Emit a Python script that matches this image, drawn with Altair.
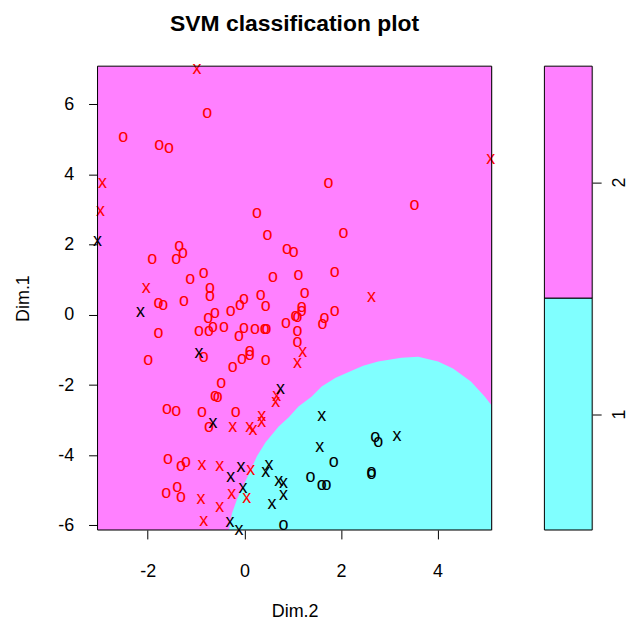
import altair as alt
import pandas as pd

FONT = "Liberation Sans"

# ---- data ranges (grid extent) ----
dim2_range = [-3.04, 5.12]
dim1_range = [-6.13, 7.09]

# ---- decision boundary: upper edge of the class-1 (cyan) region ----
bound_dim2 = [-0.32, -0.26, -0.15, 0.09, 0.26, 0.44, 0.71, 0.92, 1.12, 1.39, 1.60,
              1.89, 2.22, 2.46, 2.77, 3.25, 3.60, 4.01, 4.32, 4.69, 4.98, 5.12]
bound_dim1 = [-6.13, -5.67, -5.25, -4.54, -4.03, -3.63, -3.18, -2.92, -2.61, -2.33, -2.04,
              -1.79, -1.59, -1.45, -1.33, -1.22, -1.19, -1.33, -1.53, -1.90, -2.33, -2.58]

# ---- class 2, ordinary points ("o", red) ----
c2o_dim2 = [-2.51, -1.76, -1.56, -0.77, 1.74, 3.52, 0.26, 2.05, 0.48, -1.35, -1.27, -1.41,
            -1.91, 0.88, 1.02, -0.84, -1.12, 0.59, 1.12, 1.87, 1.25, -0.71, -0.71, -1.78,
            -1.68, -1.25, -0.01, -0.09, 0.34, 0.44, -0.28, -0.61, -0.75, 1.19, 1.19, 1.87,
            1.06, 1.10, 0.86, 1.66, 1.62, -1.78, -0.94, -0.73, -0.65, -0.42, -0.01, 0.22,
            0.42, 0.46, -0.11, 1.10, 1.10, -0.84, 0.11, 0.11, -0.05, -0.24, 0.44, -1.99,
            -0.48, -0.61, -0.55, -1.60, -1.41, -0.88, -0.18, -0.73, -1.58, -1.31, -1.21,
            -1.62, -1.39, -1.31]
c2o_dim1 = [5.08, 4.85, 4.77, 5.76, 3.77, 3.12, 2.89, 2.33, 2.27, 1.96, 1.76, 1.59,
            1.59, 1.87, 1.79, 1.19, 1.02, 1.08, 1.13, 1.22, 0.62, 0.77, 0.54, 0.34,
            0.28, 0.40, 0.45, 0.28, 0.57, 0.26, 0.11, 0.06, -0.09, 0.23, 0.11, 0.11,
            -0.03, -0.06, -0.23, -0.09, -0.26, -0.51, -0.45, -0.45, -0.34, -0.34, -0.37, -0.40,
            -0.40, -0.40, -0.60, -0.45, -0.77, -1.19, -1.02, -1.13, -1.25, -1.48, -1.28, -1.30,
            -1.93, -2.30, -2.35, -2.67, -2.75, -2.78, -2.78, -3.21, -4.11, -4.31, -4.20,
            -5.08, -4.91, -5.19]

# ---- class 2, support vectors ("x", red) ----
c2x_dim2 = [-0.98, -2.94, -2.98, -2.03, 2.63, 1.21, 1.10, 0.67, 0.65, 0.36, 0.36, -0.24,
            0.11, 0.18, -0.88, -0.51, 0.13, -0.26, 0.05, -0.90, -0.51, -0.84, 5.10]
c2x_dim1 = [7.01, 3.77, 2.95, 0.77, 0.51, -1.05, -1.36, -2.30, -2.47, -2.89, -3.06, -3.21,
            -3.21, -3.29, -4.28, -4.31, -4.43, -5.11, -5.22, -5.25, -5.48, -5.87, 4.43]

# ---- class 1, support vectors ("x", black) ----
c1x_dim2 = [-3.04, -2.15, -0.94, 0.75, -0.65, -0.07, -0.28, 0.51, 0.44, 0.71, 0.81, -0.03,
            0.81, 0.57, -0.30, -0.11, 1.60, 1.56, 3.16]
c1x_dim1 = [2.10, 0.09, -1.08, -2.10, -3.09, -4.34, -4.62, -4.28, -4.48, -4.74, -4.79, -4.94,
            -5.13, -5.39, -5.90, -6.13, -2.87, -3.77, -3.46]

# ---- class 1, ordinary points ("o", black) ----
c1o_dim2 = [2.71, 2.77, 1.85, 1.37, 1.60, 1.70, 2.63, 2.63, 0.81]
c1o_dim1 = [-3.49, -3.63, -4.20, -4.62, -4.85, -4.85, -4.48, -4.54, -5.99]

classes = ["1", "2"]
region_colors = ["#80FFFF", "#FF80FF"]
symbol_colors = ["black", "red"]
x_ticks = [-2, 0, 2, 4]
y_ticks = [-6, -4, -2, 0, 2, 4, 6]

# ---- tables ----
frames = []
for d2, d1, c, s in [(c2o_dim2, c2o_dim1, "2", "o"), (c2x_dim2, c2x_dim1, "2", "x"),
                     (c1x_dim2, c1x_dim1, "1", "x"), (c1o_dim2, c1o_dim1, "1", "o")]:
    frames.append(pd.DataFrame({"dim2": d2, "dim1": d1, "cls": c, "sym": s}))
pts = pd.concat(frames, ignore_index=True)

bound = pd.DataFrame({"dim2": bound_dim2, "dim1": bound_dim1, "low": dim1_range[0]})
box = pd.DataFrame({"x0": [dim2_range[0]], "x1": [dim2_range[1]],
                    "y0": [dim1_range[0]], "y1": [dim1_range[1]]})

xscale = alt.Scale(domain=dim2_range, nice=False, zero=False)
yscale = alt.Scale(domain=dim1_range, nice=False, zero=False)

xaxis = alt.Axis(values=x_ticks, title="Dim.2", domain=False, grid=False, tickColor="black",
                 tickSize=9, labelPadding=24, labelFontSize=18, labelColor="black",
                 labelFont=FONT, titleFont=FONT, titleFontSize=18, titleFontWeight="normal",
                 titleColor="black", titlePadding=22, labelExpr="toString(datum.value)")
yaxis = alt.Axis(values=y_ticks, title="Dim.1", domain=False, grid=False, tickColor="black",
                 tickSize=9, labelPadding=15, labelFontSize=18, labelColor="black",
                 labelFont=FONT, titleFont=FONT, titleFontSize=18, titleFontWeight="normal",
                 titleColor="black", titlePadding=25, labelExpr="toString(datum.value)",
                 labelAngle=0)

bg = alt.Chart(box).mark_rect(color="#FF80FF").encode(
    x=alt.X("x0:Q", scale=xscale, axis=xaxis), x2="x1:Q",
    y=alt.Y("y0:Q", scale=yscale, axis=yaxis), y2="y1:Q")

region = alt.Chart(bound).mark_area(color="#80FFFF", clip=True, interpolate="linear").encode(
    x=alt.X("dim2:Q", scale=xscale), y=alt.Y("dim1:Q", scale=yscale), y2="low:Q")

points = alt.Chart(pts).mark_text(fontSize=18, font=FONT, baseline="middle", align="center").encode(
    x=alt.X("dim2:Q", scale=xscale), y=alt.Y("dim1:Q", scale=yscale),
    text="sym:N",
    color=alt.Color("cls:N", scale=alt.Scale(domain=classes, range=symbol_colors), legend=None))

frame = alt.Chart(box).mark_rect(filled=False, stroke="black", strokeWidth=1).encode(
    x=alt.X("x0:Q", scale=xscale), x2="x1:Q", y=alt.Y("y0:Q", scale=yscale), y2="y1:Q")

main = alt.layer(bg, region, points, frame).properties(
    width=396, height=466,
    title=alt.TitleParams("SVM classification plot", font=FONT, fontSize=23, fontWeight="bold",
                          color="black", anchor="middle", frame="group", offset=24))

# ---- key (colour bar) ----
key_lo = [1, 2]
key_hi = [2, 3]
key_ticks = [1.5, 2.5]
key = pd.DataFrame({"lo": key_lo, "hi": key_hi, "level": classes, "x0": 0, "x1": 1})

legend = alt.Chart(key).mark_rect(stroke="black", strokeWidth=1).encode(
    x=alt.X("x0:Q", scale=alt.Scale(domain=[0, 1], nice=False, zero=False), axis=None),
    x2="x1:Q",
    y=alt.Y("lo:Q", scale=alt.Scale(domain=[1, 3], nice=False, zero=False),
            axis=alt.Axis(orient="right", values=key_ticks, title=None, domain=False, grid=False,
                          labelExpr="datum.value < 2 ? '1' : '2'", labelAngle=270,
                          labelAlign="center", labelBaseline="middle", tickColor="black",
                          tickSize=9, labelPadding=18, labelFontSize=18, labelColor="black",
                          labelFont=FONT)),
    y2="hi:Q",
    fill=alt.Fill("level:N", scale=alt.Scale(domain=classes, range=region_colors), legend=None),
).properties(width=48, height=466)

chart = alt.hconcat(main, legend, spacing=47).resolve_scale(
    color="independent", fill="independent").configure_view(strokeWidth=0).configure(
    font=FONT, background="white").properties(padding={"left": 14, "top": 11, "right": 0, "bottom": 0})

chart.save("out.html", embed_options={"renderer": "svg", "actions": False})
